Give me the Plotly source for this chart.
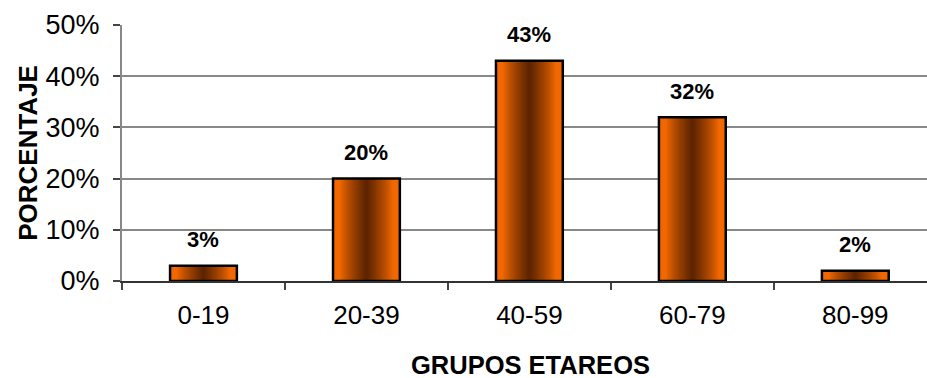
import plotly.graph_objects as go

categories = ["0-19", "20-39", "40-59", "60-79", "80-99"]
values = [0.03, 0.20, 0.43, 0.32, 0.02]
labels = ["3%", "20%", "43%", "32%", "2%"]

FONT = "Liberation Sans, Arial, sans-serif"
orange = (242, 104, 0)
dark = (88, 34, 0)

def mix(t):
    c = [round(orange[i] + (dark[i] - orange[i]) * t) for i in range(3)]
    return f"rgb({c[0]},{c[1]},{c[2]})"

fig = go.Figure()
W = 0.41
N = 28
for k in range(N):
    frac = 1 - k / N
    d = max(0.0, 1 - frac / 0.8)
    dark_amt = d ** 0.8
    fig.add_trace(go.Bar(
        x=categories, y=values, width=W * frac,
        marker=dict(color=mix(dark_amt), line=dict(width=0)),
        hoverinfo="skip", showlegend=False,
    ))
# outline on top
fig.add_trace(go.Bar(
    x=categories, y=values, width=W,
    marker=dict(color="rgba(0,0,0,0)", line=dict(color="black", width=2.5)),
    hoverinfo="skip", showlegend=False,
))

for c, v, t in zip(categories, values, labels):
    fig.add_annotation(x=c, y=v, text=f"<b>{t}</b>", showarrow=False,
                       yshift=26, font=dict(family=FONT, size=22, color="black"))

fig.add_annotation(x=-0.117, y=0.5, xref="paper", yref="paper", text="<b>PORCENTAJE</b>",
                   textangle=-90, showarrow=False, xanchor="center", yanchor="middle",
                   font=dict(family=FONT, size=26, color="black"))
fig.add_annotation(x=0.507, y=-0.33, xref="paper", yref="paper", text="<b>GRUPOS ETAREOS</b>",
                   showarrow=False, xanchor="center", yanchor="middle",
                   font=dict(family=FONT, size=25.5, color="black"))

fig.update_layout(
    width=927, height=378,
    margin=dict(l=122, r=0, t=25, b=97),
    barmode="overlay",
    plot_bgcolor="white", paper_bgcolor="white",
    font=dict(family=FONT, size=26, color="black"),
)
fig.update_xaxes(
    type="category", range=[-0.5, 4.44],
    tickson="boundaries", ticks="outside", ticklen=7, tickcolor="#444", tickwidth=1.5,
    showline=True, linecolor="#333", linewidth=1.5,
    showgrid=False, tickfont=dict(size=26), ticklabelstandoff=10,
)
fig.update_yaxes(
    range=[0, 0.5], dtick=0.1, tickformat=".0%",
    ticks="outside", ticklen=7, tickcolor="#444", tickwidth=1.5,
    showline=True, linecolor="#888", linewidth=2,
    showgrid=True, gridcolor="#888", gridwidth=1.5,
    zeroline=False, tickfont=dict(size=27), ticklabelstandoff=8,
)

fig.write_html("out.html")
